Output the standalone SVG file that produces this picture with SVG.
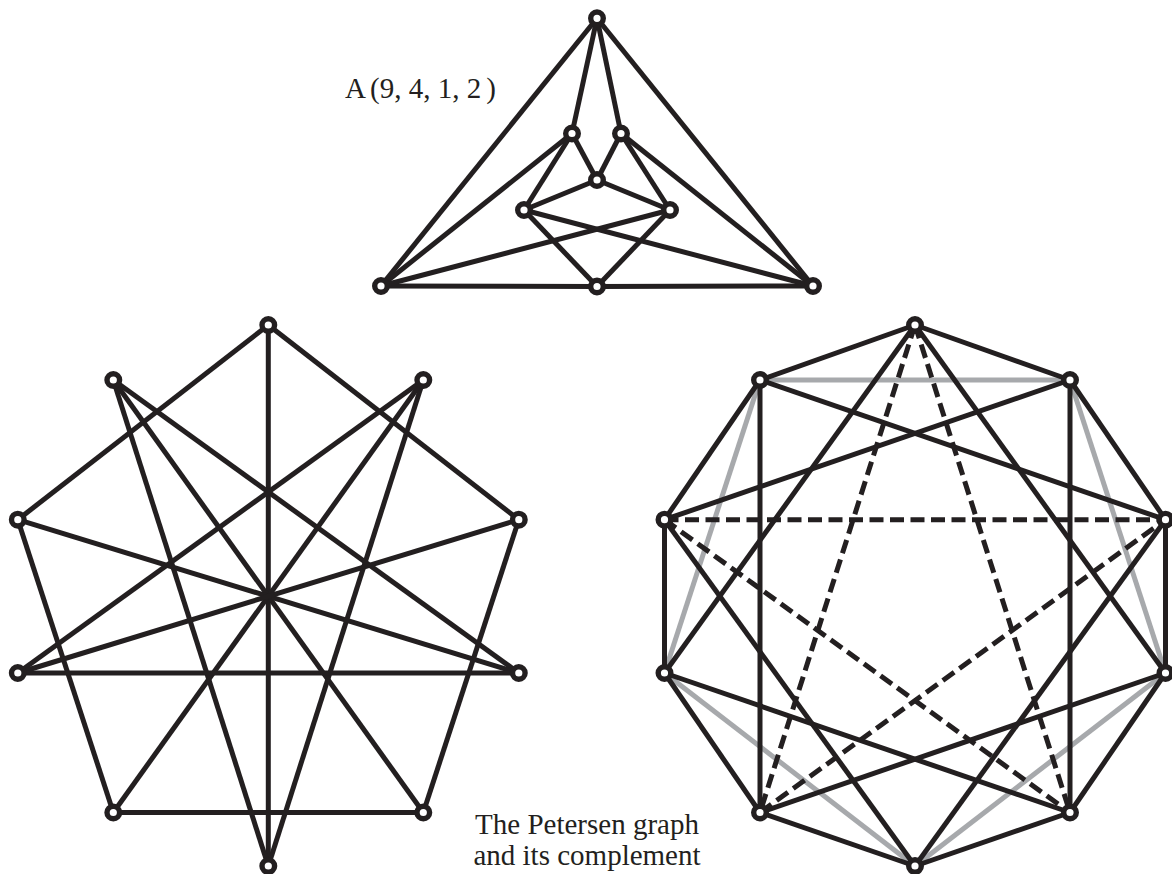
<svg xmlns="http://www.w3.org/2000/svg" width="1172" height="874" viewBox="0 0 1172 874">
<style>
.e{stroke:#231f20;stroke-width:5;fill:none}
.g{stroke:#a7a9ac}
.d{stroke-dasharray:14 6.5}
.n{fill:#fff;stroke:#231f20;stroke-width:5.4}
.t{font-family:"Liberation Serif","Times New Roman",serif;font-size:29px;fill:#231f20}
</style>
<rect width="1172" height="874" fill="#fff"/>
<g id="connectors">
<g id="top-edges" class="e">
<line x1="597" y1="18.3" x2="381" y2="286"/>
<line x1="597" y1="18.3" x2="813" y2="286"/>
<line x1="597" y1="18.3" x2="572" y2="133.5"/>
<line x1="597" y1="18.3" x2="621" y2="133.5"/>
<line x1="381" y1="286" x2="597" y2="286.5"/>
<line x1="597" y1="286.5" x2="813" y2="286"/>
<line x1="381" y1="286" x2="572" y2="133.5"/>
<line x1="381" y1="286" x2="670" y2="210"/>
<line x1="813" y1="286" x2="621" y2="133.5"/>
<line x1="813" y1="286" x2="524" y2="210"/>
<line x1="572" y1="133.5" x2="597" y2="180"/>
<line x1="621" y1="133.5" x2="597" y2="180"/>
<line x1="572" y1="133.5" x2="524" y2="210"/>
<line x1="621" y1="133.5" x2="670" y2="210"/>
<line x1="597" y1="180" x2="524" y2="210"/>
<line x1="597" y1="180" x2="670" y2="210"/>
<line x1="524" y1="210" x2="597" y2="286.5"/>
<line x1="670" y1="210" x2="597" y2="286.5"/>
</g>
<g id="petersen-edges" class="e">
<line x1="268.3" y1="325" x2="17.8" y2="519.7"/>
<line x1="268.3" y1="325" x2="518.8" y2="519.7"/>
<line x1="268.3" y1="325" x2="268.3" y2="866"/>
<line x1="113.3" y1="380" x2="268.3" y2="866"/>
<line x1="113.3" y1="380" x2="423.3" y2="812.5"/>
<line x1="113.3" y1="380" x2="518.8" y2="673"/>
<line x1="423.3" y1="380" x2="268.3" y2="866"/>
<line x1="423.3" y1="380" x2="113.3" y2="812.5"/>
<line x1="423.3" y1="380" x2="17.8" y2="673"/>
<line x1="17.8" y1="519.7" x2="518.8" y2="673"/>
<line x1="17.8" y1="519.7" x2="113.3" y2="812.5"/>
<line x1="518.8" y1="519.7" x2="17.8" y2="673"/>
<line x1="518.8" y1="519.7" x2="423.3" y2="812.5"/>
<line x1="17.8" y1="673" x2="518.8" y2="673"/>
<line x1="113.3" y1="812.5" x2="423.3" y2="812.5"/>
</g>
<g id="complement-gray" class="e g">
<line x1="760" y1="380" x2="664.5" y2="673"/>
<line x1="664.5" y1="673" x2="915" y2="866"/>
<line x1="915" y1="866" x2="1165.5" y2="673"/>
<line x1="1165.5" y1="673" x2="1070" y2="380"/>
<line x1="1070" y1="380" x2="760" y2="380"/>
</g>
<g id="complement-solid" class="e">
<line x1="915" y1="325" x2="760" y2="380"/>
<line x1="760" y1="380" x2="664.5" y2="519.7"/>
<line x1="664.5" y1="519.7" x2="664.5" y2="673"/>
<line x1="664.5" y1="673" x2="760" y2="812.5"/>
<line x1="760" y1="812.5" x2="915" y2="866"/>
<line x1="915" y1="866" x2="1070" y2="812.5"/>
<line x1="1070" y1="812.5" x2="1165.5" y2="673"/>
<line x1="1165.5" y1="673" x2="1165.5" y2="519.7"/>
<line x1="1165.5" y1="519.7" x2="1070" y2="380"/>
<line x1="1070" y1="380" x2="915" y2="325"/>
<line x1="915" y1="325" x2="664.5" y2="673"/>
<line x1="760" y1="380" x2="760" y2="812.5"/>
<line x1="664.5" y1="519.7" x2="915" y2="866"/>
<line x1="664.5" y1="673" x2="1070" y2="812.5"/>
<line x1="760" y1="812.5" x2="1165.5" y2="673"/>
<line x1="915" y1="866" x2="1165.5" y2="519.7"/>
<line x1="1070" y1="812.5" x2="1070" y2="380"/>
<line x1="1165.5" y1="673" x2="915" y2="325"/>
<line x1="1165.5" y1="519.7" x2="760" y2="380"/>
<line x1="1070" y1="380" x2="664.5" y2="519.7"/>
</g>
<g id="complement-dashed" class="e d">
<line x1="915" y1="325" x2="760" y2="812.5"/>
<line x1="915" y1="325" x2="1070" y2="812.5"/>
<line x1="664.5" y1="519.7" x2="1070" y2="812.5"/>
<line x1="664.5" y1="519.7" x2="1165.5" y2="519.7"/>
<line x1="760" y1="812.5" x2="1165.5" y2="519.7"/>
</g>
</g>
<g id="a-top"><circle class="n" cx="597" cy="18.3" r="6.3"/></g>
<g id="a-ul"><circle class="n" cx="572" cy="133.5" r="6.3"/></g>
<g id="a-ur"><circle class="n" cx="621" cy="133.5" r="6.3"/></g>
<g id="a-c"><circle class="n" cx="597" cy="180" r="6.3"/></g>
<g id="a-ml"><circle class="n" cx="524" cy="210" r="6.3"/></g>
<g id="a-mr"><circle class="n" cx="670" cy="210" r="6.3"/></g>
<g id="a-l"><circle class="n" cx="381" cy="286" r="6.3"/></g>
<g id="a-bm"><circle class="n" cx="597" cy="286.5" r="6.3"/></g>
<g id="a-r"><circle class="n" cx="813" cy="286" r="6.3"/></g>
<g id="p0"><circle class="n" cx="268.3" cy="325" r="6.3"/></g>
<g id="p1"><circle class="n" cx="113.3" cy="380" r="6.3"/></g>
<g id="p2"><circle class="n" cx="17.8" cy="519.7" r="6.3"/></g>
<g id="p3"><circle class="n" cx="17.8" cy="673" r="6.3"/></g>
<g id="p4"><circle class="n" cx="113.3" cy="812.5" r="6.3"/></g>
<g id="p5"><circle class="n" cx="268.3" cy="866" r="6.3"/></g>
<g id="p6"><circle class="n" cx="423.3" cy="812.5" r="6.3"/></g>
<g id="p7"><circle class="n" cx="518.8" cy="673" r="6.3"/></g>
<g id="p8"><circle class="n" cx="518.8" cy="519.7" r="6.3"/></g>
<g id="p9"><circle class="n" cx="423.3" cy="380" r="6.3"/></g>
<g id="c0"><circle class="n" cx="915" cy="325" r="6.3"/></g>
<g id="c1"><circle class="n" cx="760" cy="380" r="6.3"/></g>
<g id="c2"><circle class="n" cx="664.5" cy="519.7" r="6.3"/></g>
<g id="c3"><circle class="n" cx="664.5" cy="673" r="6.3"/></g>
<g id="c4"><circle class="n" cx="760" cy="812.5" r="6.3"/></g>
<g id="c5"><circle class="n" cx="915" cy="866" r="6.3"/></g>
<g id="c6"><circle class="n" cx="1070" cy="812.5" r="6.3"/></g>
<g id="c7"><circle class="n" cx="1165.5" cy="673" r="6.3"/></g>
<g id="c8"><circle class="n" cx="1165.5" cy="519.7" r="6.3"/></g>
<g id="c9"><circle class="n" cx="1070" cy="380" r="6.3"/></g>
<g id="label-a"><text class="t" x="345" y="98">A<tspan dx="4">(</tspan>9, 4, 1, 2<tspan dx="5">)</tspan></text></g>
<g id="caption"><text class="t" text-anchor="middle"><tspan x="587" y="834">The Petersen graph</tspan><tspan x="587" y="865">and its complement</tspan></text></g>
</svg>
